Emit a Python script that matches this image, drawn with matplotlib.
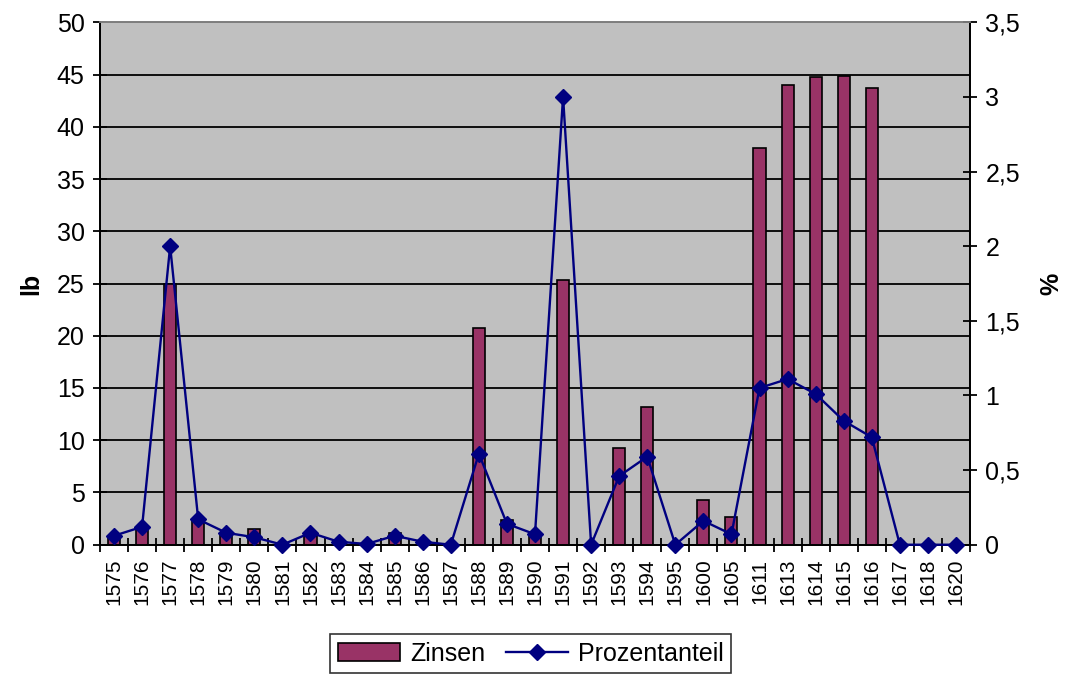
import matplotlib.pyplot as plt
import numpy as np
from matplotlib.ticker import FuncFormatter

plt.rcParams['font.family'] = ['Liberation Sans', 'DejaVu Sans']

years = ['1575', '1576', '1577', '1578', '1579', '1580', '1581', '1582', '1583', '1584',
         '1585', '1586', '1587', '1588', '1589', '1590', '1591', '1592', '1593', '1594',
         '1595', '1600', '1605', '1611', '1613', '1614', '1615', '1616', '1617', '1618', '1620']
zinsen = [0.8, 1.5, 25.0, 2.3, 1.1, 1.5, 0, 0.8, 0, 0,
          1.1, 0, 0, 20.7, 2.4, 1.1, 25.3, 0, 9.3, 13.2,
          0, 4.3, 2.7, 38.0, 44.0, 44.8, 44.9, 43.7, 0, 0, 0]
prozent = [0.06, 0.12, 2.0, 0.17, 0.08, 0.05, 0, 0.08, 0.02, 0.005,
           0.06, 0.02, 0, 0.61, 0.14, 0.07, 3.0, 0, 0.46, 0.59,
           0, 0.16, 0.07, 1.05, 1.11, 1.01, 0.83, 0.72, 0, 0, 0]

fig = plt.figure(figsize=(10.67, 6.75), dpi=100)
ax = fig.add_axes([0.0937, 0.193, 0.8154, 0.774])
ax.set_facecolor('#C0C0C0')
x = np.arange(len(years))

bars = ax.bar(x, zinsen, width=0.43, color='#993366', edgecolor='black', linewidth=1.2,
              label='Zinsen', zorder=3)
ax.set_xlim(-0.5, len(years) - 0.5)
ax.set_ylim(0, 50)
ax.set_yticks(np.arange(0, 51, 5))
ax.yaxis.grid(True, color='black', linewidth=1.3, zorder=1)
ax.set_axisbelow(True)
ax.set_xticks(x)
ax.set_xticklabels(years, rotation=90, fontsize=15)
ax.set_xticks(np.arange(-0.5, len(years), 1), minor=True)
ax.tick_params(axis='x', which='major', length=0, pad=10)
ax.tick_params(axis='x', which='minor', length=10, width=1.3, direction='inout')
ax.tick_params(axis='y', labelsize=18, length=10, width=1.3, direction='inout', pad=6)
ax.set_ylabel('lb', fontsize=18, fontweight='bold', labelpad=10)
for s in ax.spines.values():
    s.set_linewidth(1.3)
ax.spines['top'].set_color('#808080')

ax2 = ax.twinx()
line, = ax2.plot(x, prozent, color='#000080', marker='D', markersize=8, linewidth=1.7,
                 label='Prozentanteil', zorder=4, clip_on=False)
ax2.set_ylim(0, 3.5)
ax2.set_yticks(np.arange(0, 3.51, 0.5))
ax2.yaxis.set_major_formatter(FuncFormatter(lambda v, p: ('%g' % v).replace('.', ',')))
ax2.tick_params(axis='y', labelsize=18, length=10, width=1.3, direction='inout', pad=6)
ax2.set_ylabel('%', fontsize=18, fontweight='bold', labelpad=14)
ax2.spines['top'].set_color('#808080')
for s in ax2.spines.values():
    s.set_linewidth(1.3)

leg = fig.legend([bars, line], ['Zinsen', 'Prozentanteil'], loc='lower center',
                 bbox_to_anchor=(0.4975, -0.016), ncol=2, fontsize=18, frameon=True,
                 fancybox=False, edgecolor='black', handlelength=2.5, columnspacing=0.8,
                 handletextpad=0.4, borderpad=0.3)
leg.get_frame().set_linewidth(1.2)

fig.savefig('out.png', dpi=100)
